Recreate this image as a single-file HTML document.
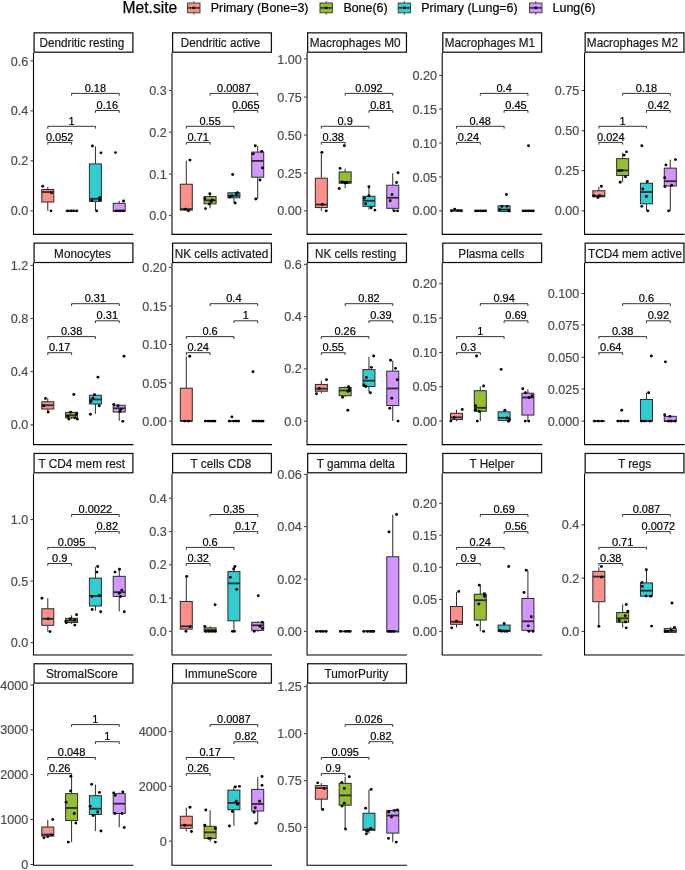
<!DOCTYPE html>
<html lang="en"><head><meta charset="utf-8"><title>Met.site immune cell fractions</title>
<style>
html,body{margin:0;padding:0;background:#fff;}
body{width:685px;height:870px;overflow:hidden;font-family:"Liberation Sans",Arial,Helvetica,sans-serif;}
svg{display:block;}
</style></head><body>
<svg width="685" height="870" viewBox="0 0 685 870" font-family="'Liberation Sans', Arial, Helvetica, sans-serif">
<rect width="685" height="870" fill="#fff"/>
<text x="122.6" y="12.6" font-size="15.6" fill="#000" stroke="#000" stroke-width="0.25">Met.site</text>
<g stroke="#333" stroke-width="0.9">
<line x1="193.8" x2="193.8" y1="1.1" y2="14.7"/>
<rect x="187.6" y="3" width="12.4" height="9.8" fill="#F9918A"/>
<line x1="187.6" x2="200" y1="7.9" y2="7.9" stroke-width="1.6"/>
</g>
<circle cx="193.8" cy="7.9" r="1.45" fill="#000"/>
<text x="210.7" y="11.5" font-size="12.45" fill="#000" stroke="#000" stroke-width="0.2">Primary (Bone=3)</text>
<g stroke="#333" stroke-width="0.9">
<line x1="326.2" x2="326.2" y1="1.1" y2="14.7"/>
<rect x="320" y="3" width="12.4" height="9.8" fill="#96BE33"/>
<line x1="320" x2="332.4" y1="7.9" y2="7.9" stroke-width="1.6"/>
</g>
<circle cx="326.2" cy="7.9" r="1.45" fill="#000"/>
<text x="343.4" y="11.5" font-size="12.45" fill="#000" stroke="#000" stroke-width="0.2">Bone(6)</text>
<g stroke="#333" stroke-width="0.9">
<line x1="404.4" x2="404.4" y1="1.1" y2="14.7"/>
<rect x="398.2" y="3" width="12.4" height="9.8" fill="#33CCD0"/>
<line x1="398.2" x2="410.6" y1="7.9" y2="7.9" stroke-width="1.6"/>
</g>
<circle cx="404.4" cy="7.9" r="1.45" fill="#000"/>
<text x="421.2" y="11.5" font-size="12.45" fill="#000" stroke="#000" stroke-width="0.2">Primary (Lung=6)</text>
<g stroke="#333" stroke-width="0.9">
<line x1="535.8" x2="535.8" y1="1.1" y2="14.7"/>
<rect x="529.6" y="3" width="12.4" height="9.8" fill="#D296FF"/>
<line x1="529.6" x2="542" y1="7.9" y2="7.9" stroke-width="1.6"/>
</g>
<circle cx="535.8" cy="7.9" r="1.45" fill="#000"/>
<text x="552.6" y="11.5" font-size="12.45" fill="#000" stroke="#000" stroke-width="0.2">Lung(6)</text>
<g>
<g stroke="#2b2b2b" stroke-width="1" fill="#F9918A">
<line x1="47.79" x2="47.79" y1="186.99" y2="189.5"/>
<line x1="47.79" x2="47.79" y1="202.06" y2="210.85"/>
<rect x="41.79" y="189.5" width="12" height="12.56"/>
<line x1="41.79" x2="53.79" y1="192.02" y2="192.02" stroke-width="1.8"/>
</g>
<g stroke="#2b2b2b" stroke-width="1" fill="#96BE33">
<line x1="65.6" x2="77.6" y1="210.85" y2="210.85" stroke-width="1.8"/>
</g>
<g stroke="#2b2b2b" stroke-width="1" fill="#33CCD0">
<line x1="95.41" x2="95.41" y1="146.31" y2="163.89"/>
<line x1="95.41" x2="95.41" y1="201.31" y2="210.85"/>
<rect x="89.41" y="163.89" width="12" height="37.42"/>
<line x1="89.41" x2="101.41" y1="198.8" y2="198.8" stroke-width="1.8"/>
</g>
<g stroke="#2b2b2b" stroke-width="1" fill="#D296FF">
<line x1="119.22" x2="119.22" y1="200.81" y2="203.32"/>
<rect x="113.22" y="203.32" width="12" height="8.04"/>
<line x1="113.22" x2="125.22" y1="210.85" y2="210.85" stroke-width="1.8"/>
</g>
<g fill="#000">
<circle cx="42.69" cy="186.24" r="1.45"/>
<circle cx="51.47" cy="192.77" r="1.45"/>
<circle cx="50.97" cy="210.85" r="1.45"/>
<circle cx="67.8" cy="210.85" r="1.45"/>
<circle cx="71.06" cy="210.85" r="1.45"/>
<circle cx="73.57" cy="210.85" r="1.45"/>
<circle cx="76.84" cy="210.85" r="1.45"/>
<circle cx="92.4" cy="146.06" r="1.45"/>
<circle cx="100.94" cy="152.84" r="1.45"/>
<circle cx="99.68" cy="197.79" r="1.45"/>
<circle cx="99.68" cy="200.05" r="1.45"/>
<circle cx="91.9" cy="200.81" r="1.45"/>
<circle cx="96.67" cy="210.85" r="1.45"/>
<circle cx="115.5" cy="152.59" r="1.45"/>
<circle cx="123.54" cy="201.06" r="1.45"/>
<circle cx="116.76" cy="210.85" r="1.45"/>
<circle cx="120.02" cy="210.85" r="1.45"/>
<circle cx="123.04" cy="210.85" r="1.45"/>
</g>
<g stroke="#111" stroke-width="0.85" fill="none">
<path d="M71.6 95.7V93.4H119.22V95.7"/>
<path d="M95.41 112.8V110.5H119.22V112.8"/>
<path d="M47.79 128.6V126.3H95.41V128.6"/>
<path d="M47.79 144.7V142.4H71.6V144.7"/>
</g>
<g font-size="11" fill="#000" stroke="#000" stroke-width="0.2" text-anchor="middle">
<text x="95.41" y="91.95">0.18</text>
<text x="107.31" y="109.05">0.16</text>
<text x="71.6" y="124.85">1</text>
<text x="59.69" y="140.95">0.052</text>
</g>
<path d="M33.5 52.8V234.35H133.5" stroke="#000" stroke-width="1.07" fill="none"/>
<g stroke="#333" stroke-width="1">
<line x1="30.5" x2="33" y1="60.91" y2="60.91"/>
<line x1="30.5" x2="33" y1="110.89" y2="110.89"/>
<line x1="30.5" x2="33" y1="160.87" y2="160.87"/>
<line x1="30.5" x2="33" y1="210.85" y2="210.85"/>
</g>
<g font-size="12.6" fill="#4D4D4D" stroke="#4D4D4D" stroke-width="0.2" text-anchor="end">
<text x="28.3" y="65.51">0.6</text>
<text x="28.3" y="115.49">0.4</text>
<text x="28.3" y="165.47">0.2</text>
<text x="28.3" y="215.45">0.0</text>
</g>
<rect x="34.1" y="32.85" width="98.8" height="19.35" fill="#fff" stroke="#111" stroke-width="1.25"/>
<text x="39.4" y="47.23" font-size="12" fill="#1A1A1A" stroke="#1A1A1A" stroke-width="0.2" textLength="84.9" lengthAdjust="spacingAndGlyphs">Dendritic resting</text>
</g>
<g>
<g stroke="#2b2b2b" stroke-width="1" fill="#F9918A">
<line x1="186.29" x2="186.29" y1="160.62" y2="184.23"/>
<line x1="186.29" x2="186.29" y1="210.1" y2="210.85"/>
<rect x="180.29" y="184.23" width="12" height="25.87"/>
<line x1="180.29" x2="192.29" y1="209.09" y2="209.09" stroke-width="1.8"/>
</g>
<g stroke="#2b2b2b" stroke-width="1" fill="#96BE33">
<line x1="210.1" x2="210.1" y1="193.77" y2="196.54"/>
<line x1="210.1" x2="210.1" y1="203.82" y2="208.34"/>
<rect x="204.1" y="196.54" width="12" height="7.28"/>
<line x1="204.1" x2="216.1" y1="200.3" y2="200.3" stroke-width="1.8"/>
</g>
<g stroke="#2b2b2b" stroke-width="1" fill="#33CCD0">
<line x1="233.91" x2="233.91" y1="197.79" y2="202.82"/>
<rect x="227.91" y="192.77" width="12" height="5.02"/>
<line x1="227.91" x2="239.91" y1="195.78" y2="195.78" stroke-width="1.8"/>
</g>
<g stroke="#2b2b2b" stroke-width="1" fill="#D296FF">
<line x1="257.72" x2="257.72" y1="146.06" y2="152.08"/>
<line x1="257.72" x2="257.72" y1="177.2" y2="199.05"/>
<rect x="251.72" y="152.08" width="12" height="25.12"/>
<line x1="251.72" x2="263.72" y1="160.87" y2="160.87" stroke-width="1.8"/>
</g>
<g fill="#000">
<circle cx="189.98" cy="160.12" r="1.45"/>
<circle cx="185.21" cy="209.09" r="1.45"/>
<circle cx="188.47" cy="210.85" r="1.45"/>
<circle cx="209.82" cy="193.77" r="1.45"/>
<circle cx="204.8" cy="198.8" r="1.45"/>
<circle cx="212.33" cy="200.05" r="1.45"/>
<circle cx="211.07" cy="201.56" r="1.45"/>
<circle cx="209.32" cy="204.07" r="1.45"/>
<circle cx="205.55" cy="208.59" r="1.45"/>
<circle cx="232.67" cy="174.44" r="1.45"/>
<circle cx="237.44" cy="192.77" r="1.45"/>
<circle cx="236.43" cy="193.77" r="1.45"/>
<circle cx="229.91" cy="197.04" r="1.45"/>
<circle cx="231.91" cy="195.78" r="1.45"/>
<circle cx="235.18" cy="203.07" r="1.45"/>
<circle cx="255.27" cy="145.8" r="1.45"/>
<circle cx="261.79" cy="151.33" r="1.45"/>
<circle cx="253.26" cy="153.84" r="1.45"/>
<circle cx="262.55" cy="167.91" r="1.45"/>
<circle cx="260.04" cy="179.96" r="1.45"/>
<circle cx="255.77" cy="199.05" r="1.45"/>
</g>
<g stroke="#111" stroke-width="0.85" fill="none">
<path d="M210.1 95.7V93.4H257.72V95.7"/>
<path d="M233.91 112.8V110.5H257.72V112.8"/>
<path d="M186.29 128.6V126.3H233.91V128.6"/>
<path d="M186.29 144.7V142.4H210.1V144.7"/>
</g>
<g font-size="11" fill="#000" stroke="#000" stroke-width="0.2" text-anchor="middle">
<text x="233.91" y="91.95">0.0087</text>
<text x="245.81" y="109.05">0.065</text>
<text x="210.1" y="124.85">0.55</text>
<text x="198.19" y="140.95">0.71</text>
</g>
<path d="M172 52.8V234.35H272" stroke="#000" stroke-width="1.07" fill="none"/>
<g stroke="#333" stroke-width="1">
<line x1="169" x2="171.5" y1="90.55" y2="90.55"/>
<line x1="169" x2="171.5" y1="132.24" y2="132.24"/>
<line x1="169" x2="171.5" y1="173.93" y2="173.93"/>
<line x1="169" x2="171.5" y1="215.62" y2="215.62"/>
</g>
<g font-size="12.6" fill="#4D4D4D" stroke="#4D4D4D" stroke-width="0.2" text-anchor="end">
<text x="166.8" y="95.15">0.3</text>
<text x="166.8" y="136.84">0.2</text>
<text x="166.8" y="178.53">0.1</text>
<text x="166.8" y="220.22">0.0</text>
</g>
<rect x="172.6" y="32.85" width="98.8" height="19.35" fill="#fff" stroke="#111" stroke-width="1.25"/>
<text x="180.8" y="47.23" font-size="12" fill="#1A1A1A" stroke="#1A1A1A" stroke-width="0.2" textLength="79.5" lengthAdjust="spacingAndGlyphs">Dendritic active</text>
</g>
<g>
<g stroke="#2b2b2b" stroke-width="1" fill="#F9918A">
<line x1="321.34" x2="321.34" y1="152.59" y2="178.2"/>
<line x1="321.34" x2="321.34" y1="207.59" y2="210.85"/>
<rect x="315.34" y="178.2" width="12" height="29.38"/>
<line x1="315.34" x2="327.34" y1="204.57" y2="204.57" stroke-width="1.8"/>
</g>
<g stroke="#2b2b2b" stroke-width="1" fill="#96BE33">
<line x1="345.15" x2="345.15" y1="168.66" y2="171.92"/>
<line x1="345.15" x2="345.15" y1="183.23" y2="188.25"/>
<rect x="339.15" y="171.92" width="12" height="11.3"/>
<line x1="339.15" x2="351.15" y1="181.97" y2="181.97" stroke-width="1.8"/>
</g>
<g stroke="#2b2b2b" stroke-width="1" fill="#33CCD0">
<line x1="368.96" x2="368.96" y1="186.99" y2="196.29"/>
<line x1="368.96" x2="368.96" y1="206.33" y2="209.6"/>
<rect x="362.96" y="196.29" width="12" height="10.05"/>
<line x1="362.96" x2="374.96" y1="200.81" y2="200.81" stroke-width="1.8"/>
</g>
<g stroke="#2b2b2b" stroke-width="1" fill="#D296FF">
<line x1="392.77" x2="392.77" y1="173.18" y2="185.24"/>
<line x1="392.77" x2="392.77" y1="208.34" y2="210.85"/>
<rect x="386.77" y="185.24" width="12" height="23.11"/>
<line x1="386.77" x2="398.77" y1="197.79" y2="197.79" stroke-width="1.8"/>
</g>
<g fill="#000">
<circle cx="321.96" cy="152.33" r="1.45"/>
<circle cx="322.21" cy="204.57" r="1.45"/>
<circle cx="326.23" cy="210.85" r="1.45"/>
<circle cx="344.31" cy="145.8" r="1.45"/>
<circle cx="340.04" cy="168.41" r="1.45"/>
<circle cx="342.3" cy="181.97" r="1.45"/>
<circle cx="346.82" cy="182.72" r="1.45"/>
<circle cx="339.28" cy="188.5" r="1.45"/>
<circle cx="345.06" cy="182.72" r="1.45"/>
<circle cx="368.91" cy="186.74" r="1.45"/>
<circle cx="368.91" cy="195.78" r="1.45"/>
<circle cx="364.39" cy="198.29" r="1.45"/>
<circle cx="365.65" cy="203.82" r="1.45"/>
<circle cx="371.17" cy="207.84" r="1.45"/>
<circle cx="374.94" cy="210.1" r="1.45"/>
<circle cx="398.04" cy="172.68" r="1.45"/>
<circle cx="396.53" cy="182.47" r="1.45"/>
<circle cx="392.01" cy="194.53" r="1.45"/>
<circle cx="390.26" cy="200.81" r="1.45"/>
<circle cx="394.27" cy="210.85" r="1.45"/>
<circle cx="397.54" cy="210.85" r="1.45"/>
</g>
<g stroke="#111" stroke-width="0.85" fill="none">
<path d="M345.15 95.7V93.4H392.77V95.7"/>
<path d="M368.96 112.8V110.5H392.77V112.8"/>
<path d="M321.34 128.6V126.3H368.96V128.6"/>
<path d="M321.34 144.7V142.4H345.15V144.7"/>
</g>
<g font-size="11" fill="#000" stroke="#000" stroke-width="0.2" text-anchor="middle">
<text x="368.96" y="91.95">0.092</text>
<text x="380.87" y="109.05">0.81</text>
<text x="345.15" y="124.85">0.9</text>
<text x="333.25" y="140.95">0.38</text>
</g>
<path d="M307.05 52.8V234.35H407.05" stroke="#000" stroke-width="1.07" fill="none"/>
<g stroke="#333" stroke-width="1">
<line x1="304.05" x2="306.55" y1="58.91" y2="58.91"/>
<line x1="304.05" x2="306.55" y1="97.08" y2="97.08"/>
<line x1="304.05" x2="306.55" y1="135" y2="135"/>
<line x1="304.05" x2="306.55" y1="172.93" y2="172.93"/>
<line x1="304.05" x2="306.55" y1="210.85" y2="210.85"/>
</g>
<g font-size="12.6" fill="#4D4D4D" stroke="#4D4D4D" stroke-width="0.2" text-anchor="end">
<text x="301.85" y="63.51">1.00</text>
<text x="301.85" y="101.68">0.75</text>
<text x="301.85" y="139.6">0.50</text>
<text x="301.85" y="177.53">0.25</text>
<text x="301.85" y="215.45">0.00</text>
</g>
<rect x="307.65" y="32.85" width="98.8" height="19.35" fill="#fff" stroke="#111" stroke-width="1.25"/>
<text x="309.7" y="47.23" font-size="12" fill="#1A1A1A" stroke="#1A1A1A" stroke-width="0.2" textLength="90.8" lengthAdjust="spacingAndGlyphs">Macrophages M0</text>
</g>
<g>
<g stroke="#2b2b2b" stroke-width="1" fill="#F9918A">
<rect x="450.49" y="210.1" width="12" height="0.75"/>
<line x1="450.49" x2="462.49" y1="210.6" y2="210.6" stroke-width="1.8"/>
</g>
<g stroke="#2b2b2b" stroke-width="1" fill="#96BE33">
<line x1="474.3" x2="486.3" y1="210.85" y2="210.85" stroke-width="1.8"/>
</g>
<g stroke="#2b2b2b" stroke-width="1" fill="#33CCD0">
<rect x="498.11" y="205.83" width="12" height="5.53"/>
<line x1="498.11" x2="510.11" y1="209.6" y2="209.6" stroke-width="1.8"/>
</g>
<g stroke="#2b2b2b" stroke-width="1" fill="#D296FF">
<line x1="521.92" x2="533.92" y1="210.85" y2="210.85" stroke-width="1.8"/>
</g>
<g fill="#000">
<circle cx="451.69" cy="210.85" r="1.45"/>
<circle cx="454.7" cy="209.09" r="1.45"/>
<circle cx="457.96" cy="210.6" r="1.45"/>
<circle cx="460.98" cy="210.85" r="1.45"/>
<circle cx="475.79" cy="210.85" r="1.45"/>
<circle cx="478.05" cy="210.85" r="1.45"/>
<circle cx="480.56" cy="210.85" r="1.45"/>
<circle cx="483.07" cy="210.85" r="1.45"/>
<circle cx="485.58" cy="210.85" r="1.45"/>
<circle cx="506.42" cy="194.53" r="1.45"/>
<circle cx="501.91" cy="206.33" r="1.45"/>
<circle cx="506.93" cy="206.33" r="1.45"/>
<circle cx="499.9" cy="209.6" r="1.45"/>
<circle cx="508.68" cy="210.35" r="1.45"/>
<circle cx="508.94" cy="211.1" r="1.45"/>
<circle cx="528.52" cy="145.8" r="1.45"/>
<circle cx="523.25" cy="210.85" r="1.45"/>
<circle cx="525.76" cy="210.85" r="1.45"/>
<circle cx="528.27" cy="210.85" r="1.45"/>
<circle cx="530.78" cy="210.85" r="1.45"/>
<circle cx="533.29" cy="210.85" r="1.45"/>
</g>
<g stroke="#111" stroke-width="0.85" fill="none">
<path d="M480.3 95.7V93.4H527.92V95.7"/>
<path d="M504.11 112.8V110.5H527.92V112.8"/>
<path d="M456.49 128.6V126.3H504.11V128.6"/>
<path d="M456.49 144.7V142.4H480.3V144.7"/>
</g>
<g font-size="11" fill="#000" stroke="#000" stroke-width="0.2" text-anchor="middle">
<text x="504.11" y="91.95">0.4</text>
<text x="516.01" y="109.05">0.45</text>
<text x="480.3" y="124.85">0.48</text>
<text x="468.39" y="140.95">0.24</text>
</g>
<path d="M442.2 52.8V234.35H542.2" stroke="#000" stroke-width="1.07" fill="none"/>
<g stroke="#333" stroke-width="1">
<line x1="439.2" x2="441.7" y1="75.48" y2="75.48"/>
<line x1="439.2" x2="441.7" y1="109.14" y2="109.14"/>
<line x1="439.2" x2="441.7" y1="143.04" y2="143.04"/>
<line x1="439.2" x2="441.7" y1="176.95" y2="176.95"/>
<line x1="439.2" x2="441.7" y1="210.85" y2="210.85"/>
</g>
<g font-size="12.6" fill="#4D4D4D" stroke="#4D4D4D" stroke-width="0.2" text-anchor="end">
<text x="437" y="80.08">0.20</text>
<text x="437" y="113.74">0.15</text>
<text x="437" y="147.64">0.10</text>
<text x="437" y="181.55">0.05</text>
<text x="437" y="215.45">0.00</text>
</g>
<rect x="442.8" y="32.85" width="98.8" height="19.35" fill="#fff" stroke="#111" stroke-width="1.25"/>
<text x="444.7" y="47.23" font-size="12" fill="#1A1A1A" stroke="#1A1A1A" stroke-width="0.2" textLength="90.3" lengthAdjust="spacingAndGlyphs">Macrophages M1</text>
</g>
<g>
<g stroke="#2b2b2b" stroke-width="1" fill="#F9918A">
<line x1="598.84" x2="598.84" y1="186.99" y2="190.76"/>
<line x1="598.84" x2="598.84" y1="196.79" y2="197.79"/>
<rect x="592.84" y="190.76" width="12" height="6.03"/>
<line x1="592.84" x2="604.84" y1="195.78" y2="195.78" stroke-width="1.8"/>
</g>
<g stroke="#2b2b2b" stroke-width="1" fill="#96BE33">
<line x1="622.65" x2="622.65" y1="152.59" y2="158.61"/>
<line x1="622.65" x2="622.65" y1="175.44" y2="181.97"/>
<rect x="616.65" y="158.61" width="12" height="16.83"/>
<line x1="616.65" x2="628.65" y1="170.42" y2="170.42" stroke-width="1.8"/>
</g>
<g stroke="#2b2b2b" stroke-width="1" fill="#33CCD0">
<line x1="646.46" x2="646.46" y1="181.22" y2="183.23"/>
<line x1="646.46" x2="646.46" y1="203.82" y2="210.85"/>
<rect x="640.46" y="183.23" width="12" height="20.59"/>
<line x1="640.46" x2="652.46" y1="192.02" y2="192.02" stroke-width="1.8"/>
</g>
<g stroke="#2b2b2b" stroke-width="1" fill="#D296FF">
<line x1="670.27" x2="670.27" y1="159.62" y2="168.16"/>
<line x1="670.27" x2="670.27" y1="185.99" y2="210.85"/>
<rect x="664.27" y="168.16" width="12" height="17.83"/>
<line x1="664.27" x2="676.27" y1="181.22" y2="181.22" stroke-width="1.8"/>
</g>
<g fill="#000">
<circle cx="601.39" cy="186.24" r="1.45"/>
<circle cx="593.85" cy="195.78" r="1.45"/>
<circle cx="599.63" cy="195.78" r="1.45"/>
<circle cx="597.87" cy="197.54" r="1.45"/>
<circle cx="626.49" cy="151.83" r="1.45"/>
<circle cx="624.24" cy="155.1" r="1.45"/>
<circle cx="619.21" cy="170.67" r="1.45"/>
<circle cx="621.72" cy="170.42" r="1.45"/>
<circle cx="625.49" cy="176.7" r="1.45"/>
<circle cx="620.22" cy="182.22" r="1.45"/>
<circle cx="641.81" cy="145.8" r="1.45"/>
<circle cx="647.34" cy="181.47" r="1.45"/>
<circle cx="642.82" cy="189" r="1.45"/>
<circle cx="646.33" cy="196.54" r="1.45"/>
<circle cx="641.81" cy="206.33" r="1.45"/>
<circle cx="647.84" cy="210.85" r="1.45"/>
<circle cx="675.46" cy="159.62" r="1.45"/>
<circle cx="665.92" cy="164.89" r="1.45"/>
<circle cx="664.66" cy="177.7" r="1.45"/>
<circle cx="664.91" cy="186.49" r="1.45"/>
<circle cx="671.69" cy="185.24" r="1.45"/>
<circle cx="668.68" cy="210.85" r="1.45"/>
</g>
<g stroke="#111" stroke-width="0.85" fill="none">
<path d="M622.65 95.7V93.4H670.27V95.7"/>
<path d="M646.46 112.8V110.5H670.27V112.8"/>
<path d="M598.84 128.6V126.3H646.46V128.6"/>
<path d="M598.84 144.7V142.4H622.65V144.7"/>
</g>
<g font-size="11" fill="#000" stroke="#000" stroke-width="0.2" text-anchor="middle">
<text x="646.46" y="91.95">0.18</text>
<text x="658.37" y="109.05">0.42</text>
<text x="622.65" y="124.85">1</text>
<text x="610.74" y="140.95">0.024</text>
</g>
<path d="M584.55 52.8V234.35H684.55" stroke="#000" stroke-width="1.07" fill="none"/>
<g stroke="#333" stroke-width="1">
<line x1="581.55" x2="584.05" y1="90.55" y2="90.55"/>
<line x1="581.55" x2="584.05" y1="130.74" y2="130.74"/>
<line x1="581.55" x2="584.05" y1="170.67" y2="170.67"/>
<line x1="581.55" x2="584.05" y1="210.85" y2="210.85"/>
</g>
<g font-size="12.6" fill="#4D4D4D" stroke="#4D4D4D" stroke-width="0.2" text-anchor="end">
<text x="579.35" y="95.15">0.75</text>
<text x="579.35" y="135.34">0.50</text>
<text x="579.35" y="175.27">0.25</text>
<text x="579.35" y="215.45">0.00</text>
</g>
<rect x="585.15" y="32.85" width="98.8" height="19.35" fill="#fff" stroke="#111" stroke-width="1.25"/>
<text x="586.8" y="47.23" font-size="12" fill="#1A1A1A" stroke="#1A1A1A" stroke-width="0.2" textLength="91.2" lengthAdjust="spacingAndGlyphs">Macrophages M2</text>
</g>
<g>
<g stroke="#2b2b2b" stroke-width="1" fill="#F9918A">
<line x1="47.79" x2="47.79" y1="398.25" y2="401.76"/>
<line x1="47.79" x2="47.79" y1="409.05" y2="411.56"/>
<rect x="41.79" y="401.76" width="12" height="7.28"/>
<line x1="41.79" x2="53.79" y1="405.28" y2="405.28" stroke-width="1.8"/>
</g>
<g stroke="#2b2b2b" stroke-width="1" fill="#96BE33">
<line x1="71.6" x2="71.6" y1="411.56" y2="412.31"/>
<line x1="71.6" x2="71.6" y1="417.84" y2="419.09"/>
<rect x="65.6" y="412.31" width="12" height="5.53"/>
<line x1="65.6" x2="77.6" y1="415.33" y2="415.33" stroke-width="1.8"/>
</g>
<g stroke="#2b2b2b" stroke-width="1" fill="#33CCD0">
<line x1="95.41" x2="95.41" y1="393.73" y2="395.24"/>
<line x1="95.41" x2="95.41" y1="404.03" y2="413.82"/>
<rect x="89.41" y="395.24" width="12" height="8.79"/>
<line x1="89.41" x2="101.41" y1="399.5" y2="399.5" stroke-width="1.8"/>
</g>
<g stroke="#2b2b2b" stroke-width="1" fill="#D296FF">
<line x1="119.22" x2="119.22" y1="404.53" y2="405.28"/>
<line x1="119.22" x2="119.22" y1="412.06" y2="420.85"/>
<rect x="113.22" y="405.28" width="12" height="6.78"/>
<line x1="113.22" x2="125.22" y1="408.29" y2="408.29" stroke-width="1.8"/>
</g>
<g fill="#000">
<circle cx="45.45" cy="398.5" r="1.45"/>
<circle cx="43.69" cy="405.78" r="1.45"/>
<circle cx="48.21" cy="412.06" r="1.45"/>
<circle cx="73.82" cy="394.48" r="1.45"/>
<circle cx="70.56" cy="412.31" r="1.45"/>
<circle cx="76.58" cy="413.82" r="1.45"/>
<circle cx="67.8" cy="416.33" r="1.45"/>
<circle cx="74.83" cy="417.84" r="1.45"/>
<circle cx="68.8" cy="419.09" r="1.45"/>
<circle cx="77.34" cy="419.09" r="1.45"/>
<circle cx="97.93" cy="377.15" r="1.45"/>
<circle cx="94.41" cy="394.73" r="1.45"/>
<circle cx="92.91" cy="398.25" r="1.45"/>
<circle cx="90.9" cy="401.51" r="1.45"/>
<circle cx="99.18" cy="405.78" r="1.45"/>
<circle cx="90.39" cy="414.32" r="1.45"/>
<circle cx="124.04" cy="356.31" r="1.45"/>
<circle cx="113.75" cy="404.53" r="1.45"/>
<circle cx="120.78" cy="409.55" r="1.45"/>
<circle cx="119.77" cy="411.56" r="1.45"/>
<circle cx="122.79" cy="421.35" r="1.45"/>
<circle cx="118.01" cy="405.78" r="1.45"/>
</g>
<g stroke="#111" stroke-width="0.85" fill="none">
<path d="M71.6 306V303.7H119.22V306"/>
<path d="M95.41 323.1V320.8H119.22V323.1"/>
<path d="M47.79 338.9V336.6H95.41V338.9"/>
<path d="M47.79 355V352.7H71.6V355"/>
</g>
<g font-size="11" fill="#000" stroke="#000" stroke-width="0.2" text-anchor="middle">
<text x="95.41" y="302.25">0.31</text>
<text x="107.31" y="319.35">0.31</text>
<text x="71.6" y="335.15">0.38</text>
<text x="59.69" y="351.25">0.17</text>
</g>
<path d="M33.5 263.1V444.65H133.5" stroke="#000" stroke-width="1.07" fill="none"/>
<g stroke="#333" stroke-width="1">
<line x1="30.5" x2="33" y1="265.39" y2="265.39"/>
<line x1="30.5" x2="33" y1="318.38" y2="318.38"/>
<line x1="30.5" x2="33" y1="371.63" y2="371.63"/>
<line x1="30.5" x2="33" y1="424.87" y2="424.87"/>
</g>
<g font-size="12.6" fill="#4D4D4D" stroke="#4D4D4D" stroke-width="0.2" text-anchor="end">
<text x="28.3" y="269.99">1.2</text>
<text x="28.3" y="322.98">0.8</text>
<text x="28.3" y="376.23">0.4</text>
<text x="28.3" y="429.47">0.0</text>
</g>
<rect x="34.1" y="243.15" width="98.8" height="19.35" fill="#fff" stroke="#111" stroke-width="1.25"/>
<text x="54.1" y="257.53" font-size="12" fill="#1A1A1A" stroke="#1A1A1A" stroke-width="0.2" textLength="56.9" lengthAdjust="spacingAndGlyphs">Monocytes</text>
</g>
<g>
<g stroke="#2b2b2b" stroke-width="1" fill="#F9918A">
<line x1="186.29" x2="186.29" y1="356.31" y2="388.2"/>
<rect x="180.29" y="388.2" width="12" height="32.9"/>
<line x1="180.29" x2="192.29" y1="421.1" y2="421.1" stroke-width="1.8"/>
</g>
<g stroke="#2b2b2b" stroke-width="1" fill="#96BE33">
<line x1="204.1" x2="216.1" y1="421.1" y2="421.1" stroke-width="1.8"/>
</g>
<g stroke="#2b2b2b" stroke-width="1" fill="#33CCD0">
<line x1="227.91" x2="239.91" y1="421.1" y2="421.1" stroke-width="1.8"/>
</g>
<g stroke="#2b2b2b" stroke-width="1" fill="#D296FF">
<line x1="251.72" x2="263.72" y1="421.1" y2="421.1" stroke-width="1.8"/>
</g>
<g fill="#000">
<circle cx="189.73" cy="356.31" r="1.45"/>
<circle cx="184.71" cy="421.1" r="1.45"/>
<circle cx="188.47" cy="421.1" r="1.45"/>
<circle cx="205.55" cy="421.1" r="1.45"/>
<circle cx="208.06" cy="421.1" r="1.45"/>
<circle cx="210.57" cy="421.1" r="1.45"/>
<circle cx="213.08" cy="421.1" r="1.45"/>
<circle cx="214.84" cy="421.1" r="1.45"/>
<circle cx="231.91" cy="416.83" r="1.45"/>
<circle cx="229.4" cy="421.1" r="1.45"/>
<circle cx="233.67" cy="421.1" r="1.45"/>
<circle cx="236.18" cy="421.1" r="1.45"/>
<circle cx="238.44" cy="421.1" r="1.45"/>
<circle cx="253.01" cy="371.63" r="1.45"/>
<circle cx="253.51" cy="421.1" r="1.45"/>
<circle cx="256.27" cy="421.1" r="1.45"/>
<circle cx="258.78" cy="421.1" r="1.45"/>
<circle cx="261.29" cy="421.1" r="1.45"/>
<circle cx="263.05" cy="421.1" r="1.45"/>
</g>
<g stroke="#111" stroke-width="0.85" fill="none">
<path d="M210.1 306V303.7H257.72V306"/>
<path d="M233.91 323.1V320.8H257.72V323.1"/>
<path d="M186.29 338.9V336.6H233.91V338.9"/>
<path d="M186.29 355V352.7H210.1V355"/>
</g>
<g font-size="11" fill="#000" stroke="#000" stroke-width="0.2" text-anchor="middle">
<text x="233.91" y="302.25">0.4</text>
<text x="245.81" y="319.35">1</text>
<text x="210.1" y="335.15">0.6</text>
<text x="198.19" y="351.25">0.24</text>
</g>
<path d="M172 263.1V444.65H272" stroke="#000" stroke-width="1.07" fill="none"/>
<g stroke="#333" stroke-width="1">
<line x1="169" x2="171.5" y1="267.4" y2="267.4"/>
<line x1="169" x2="171.5" y1="306.08" y2="306.08"/>
<line x1="169" x2="171.5" y1="344.5" y2="344.5"/>
<line x1="169" x2="171.5" y1="382.93" y2="382.93"/>
<line x1="169" x2="171.5" y1="421.1" y2="421.1"/>
</g>
<g font-size="12.6" fill="#4D4D4D" stroke="#4D4D4D" stroke-width="0.2" text-anchor="end">
<text x="166.8" y="272">0.20</text>
<text x="166.8" y="310.68">0.15</text>
<text x="166.8" y="349.1">0.10</text>
<text x="166.8" y="387.53">0.05</text>
<text x="166.8" y="425.7">0.00</text>
</g>
<rect x="172.6" y="243.15" width="98.8" height="19.35" fill="#fff" stroke="#111" stroke-width="1.25"/>
<text x="174.7" y="257.53" font-size="12" fill="#1A1A1A" stroke="#1A1A1A" stroke-width="0.2" textLength="93.6" lengthAdjust="spacingAndGlyphs">NK cells activated</text>
</g>
<g>
<g stroke="#2b2b2b" stroke-width="1" fill="#F9918A">
<line x1="321.34" x2="321.34" y1="380.67" y2="384.44"/>
<line x1="321.34" x2="321.34" y1="391.22" y2="393.23"/>
<rect x="315.34" y="384.44" width="12" height="6.78"/>
<line x1="315.34" x2="327.34" y1="388.71" y2="388.71" stroke-width="1.8"/>
</g>
<g stroke="#2b2b2b" stroke-width="1" fill="#96BE33">
<line x1="345.15" x2="345.15" y1="386.44" y2="387.45"/>
<line x1="345.15" x2="345.15" y1="395.74" y2="396.99"/>
<rect x="339.15" y="387.45" width="12" height="8.29"/>
<line x1="339.15" x2="351.15" y1="390.46" y2="390.46" stroke-width="1.8"/>
</g>
<g stroke="#2b2b2b" stroke-width="1" fill="#33CCD0">
<line x1="368.96" x2="368.96" y1="356.81" y2="369.62"/>
<line x1="368.96" x2="368.96" y1="386.44" y2="392.72"/>
<rect x="362.96" y="369.62" width="12" height="16.83"/>
<line x1="362.96" x2="374.96" y1="380.67" y2="380.67" stroke-width="1.8"/>
</g>
<g stroke="#2b2b2b" stroke-width="1" fill="#D296FF">
<line x1="392.77" x2="392.77" y1="360.58" y2="371.12"/>
<line x1="392.77" x2="392.77" y1="405.53" y2="421.1"/>
<rect x="386.77" y="371.12" width="12" height="34.41"/>
<line x1="386.77" x2="398.77" y1="388.45" y2="388.45" stroke-width="1.8"/>
</g>
<g fill="#000">
<circle cx="326.48" cy="379.66" r="1.45"/>
<circle cx="319.45" cy="388.45" r="1.45"/>
<circle cx="316.44" cy="393.73" r="1.45"/>
<circle cx="348.58" cy="386.7" r="1.45"/>
<circle cx="349.33" cy="388.2" r="1.45"/>
<circle cx="349.33" cy="390.71" r="1.45"/>
<circle cx="348.07" cy="391.22" r="1.45"/>
<circle cx="342.55" cy="397.24" r="1.45"/>
<circle cx="347.82" cy="410.3" r="1.45"/>
<circle cx="373.68" cy="356.06" r="1.45"/>
<circle cx="371.42" cy="367.36" r="1.45"/>
<circle cx="366.4" cy="377.4" r="1.45"/>
<circle cx="363.89" cy="384.94" r="1.45"/>
<circle cx="365.9" cy="386.44" r="1.45"/>
<circle cx="370.42" cy="392.72" r="1.45"/>
<circle cx="390.51" cy="360.32" r="1.45"/>
<circle cx="395.53" cy="368.36" r="1.45"/>
<circle cx="397.29" cy="379.66" r="1.45"/>
<circle cx="391.76" cy="398.25" r="1.45"/>
<circle cx="389.75" cy="408.29" r="1.45"/>
<circle cx="398.04" cy="421.1" r="1.45"/>
</g>
<g stroke="#111" stroke-width="0.85" fill="none">
<path d="M345.15 306V303.7H392.77V306"/>
<path d="M368.96 323.1V320.8H392.77V323.1"/>
<path d="M321.34 338.9V336.6H368.96V338.9"/>
<path d="M321.34 355V352.7H345.15V355"/>
</g>
<g font-size="11" fill="#000" stroke="#000" stroke-width="0.2" text-anchor="middle">
<text x="368.96" y="302.25">0.82</text>
<text x="380.87" y="319.35">0.39</text>
<text x="345.15" y="335.15">0.26</text>
<text x="333.25" y="351.25">0.55</text>
</g>
<path d="M307.05 263.1V444.65H407.05" stroke="#000" stroke-width="1.07" fill="none"/>
<g stroke="#333" stroke-width="1">
<line x1="304.05" x2="306.55" y1="264.38" y2="264.38"/>
<line x1="304.05" x2="306.55" y1="316.62" y2="316.62"/>
<line x1="304.05" x2="306.55" y1="368.86" y2="368.86"/>
<line x1="304.05" x2="306.55" y1="421.1" y2="421.1"/>
</g>
<g font-size="12.6" fill="#4D4D4D" stroke="#4D4D4D" stroke-width="0.2" text-anchor="end">
<text x="301.85" y="268.98">0.6</text>
<text x="301.85" y="321.22">0.4</text>
<text x="301.85" y="373.46">0.2</text>
<text x="301.85" y="425.7">0.0</text>
</g>
<rect x="307.65" y="243.15" width="98.8" height="19.35" fill="#fff" stroke="#111" stroke-width="1.25"/>
<text x="315.1" y="257.53" font-size="12" fill="#1A1A1A" stroke="#1A1A1A" stroke-width="0.2" textLength="81.2" lengthAdjust="spacingAndGlyphs">NK cells resting</text>
</g>
<g>
<g stroke="#2b2b2b" stroke-width="1" fill="#F9918A">
<line x1="456.49" x2="456.49" y1="409.8" y2="413.32"/>
<line x1="456.49" x2="456.49" y1="419.6" y2="421.1"/>
<rect x="450.49" y="413.32" width="12" height="6.28"/>
<line x1="450.49" x2="462.49" y1="417.34" y2="417.34" stroke-width="1.8"/>
</g>
<g stroke="#2b2b2b" stroke-width="1" fill="#96BE33">
<line x1="480.3" x2="480.3" y1="386.44" y2="390.71"/>
<line x1="480.3" x2="480.3" y1="411.31" y2="421.1"/>
<rect x="474.3" y="390.71" width="12" height="20.59"/>
<line x1="474.3" x2="486.3" y1="407.79" y2="407.79" stroke-width="1.8"/>
</g>
<g stroke="#2b2b2b" stroke-width="1" fill="#33CCD0">
<line x1="504.11" x2="504.11" y1="410.05" y2="411.81"/>
<line x1="504.11" x2="504.11" y1="420.35" y2="421.1"/>
<rect x="498.11" y="411.81" width="12" height="8.54"/>
<line x1="498.11" x2="510.11" y1="417.84" y2="417.84" stroke-width="1.8"/>
</g>
<g stroke="#2b2b2b" stroke-width="1" fill="#D296FF">
<line x1="527.92" x2="527.92" y1="389.21" y2="393.23"/>
<line x1="527.92" x2="527.92" y1="415.08" y2="421.1"/>
<rect x="521.92" y="393.23" width="12" height="21.85"/>
<line x1="521.92" x2="533.92" y1="397.5" y2="397.5" stroke-width="1.8"/>
</g>
<g fill="#000">
<circle cx="462.23" cy="409.55" r="1.45"/>
<circle cx="454.2" cy="417.59" r="1.45"/>
<circle cx="450.93" cy="421.1" r="1.45"/>
<circle cx="476.54" cy="356.06" r="1.45"/>
<circle cx="483.58" cy="385.94" r="1.45"/>
<circle cx="475.54" cy="405.78" r="1.45"/>
<circle cx="475.54" cy="410.05" r="1.45"/>
<circle cx="479.31" cy="411.56" r="1.45"/>
<circle cx="477.3" cy="421.1" r="1.45"/>
<circle cx="501.15" cy="369.37" r="1.45"/>
<circle cx="504.92" cy="410.3" r="1.45"/>
<circle cx="506.93" cy="417.84" r="1.45"/>
<circle cx="509.44" cy="419.6" r="1.45"/>
<circle cx="508.94" cy="421.1" r="1.45"/>
<circle cx="508.18" cy="421.1" r="1.45"/>
<circle cx="522.75" cy="388.71" r="1.45"/>
<circle cx="525.51" cy="392.72" r="1.45"/>
<circle cx="529.02" cy="397.5" r="1.45"/>
<circle cx="525.26" cy="421.1" r="1.45"/>
<circle cx="528.77" cy="421.1" r="1.45"/>
<circle cx="532.04" cy="395.74" r="1.45"/>
</g>
<g stroke="#111" stroke-width="0.85" fill="none">
<path d="M480.3 306V303.7H527.92V306"/>
<path d="M504.11 323.1V320.8H527.92V323.1"/>
<path d="M456.49 338.9V336.6H504.11V338.9"/>
<path d="M456.49 355V352.7H480.3V355"/>
</g>
<g font-size="11" fill="#000" stroke="#000" stroke-width="0.2" text-anchor="middle">
<text x="504.11" y="302.25">0.94</text>
<text x="516.01" y="319.35">0.69</text>
<text x="480.3" y="335.15">1</text>
<text x="468.39" y="351.25">0.3</text>
</g>
<path d="M442.2 263.1V444.65H542.2" stroke="#000" stroke-width="1.07" fill="none"/>
<g stroke="#333" stroke-width="1">
<line x1="439.2" x2="441.7" y1="283.72" y2="283.72"/>
<line x1="439.2" x2="441.7" y1="318.13" y2="318.13"/>
<line x1="439.2" x2="441.7" y1="352.54" y2="352.54"/>
<line x1="439.2" x2="441.7" y1="386.7" y2="386.7"/>
<line x1="439.2" x2="441.7" y1="421.1" y2="421.1"/>
</g>
<g font-size="12.6" fill="#4D4D4D" stroke="#4D4D4D" stroke-width="0.2" text-anchor="end">
<text x="437" y="288.32">0.20</text>
<text x="437" y="322.73">0.15</text>
<text x="437" y="357.14">0.10</text>
<text x="437" y="391.3">0.05</text>
<text x="437" y="425.7">0.00</text>
</g>
<rect x="442.8" y="243.15" width="98.8" height="19.35" fill="#fff" stroke="#111" stroke-width="1.25"/>
<text x="458.3" y="257.53" font-size="12" fill="#1A1A1A" stroke="#1A1A1A" stroke-width="0.2" textLength="66" lengthAdjust="spacingAndGlyphs">Plasma cells</text>
</g>
<g>
<g stroke="#2b2b2b" stroke-width="1" fill="#F9918A">
<line x1="592.84" x2="604.84" y1="421.1" y2="421.1" stroke-width="1.8"/>
</g>
<g stroke="#2b2b2b" stroke-width="1" fill="#96BE33">
<line x1="616.65" x2="628.65" y1="421.1" y2="421.1" stroke-width="1.8"/>
</g>
<g stroke="#2b2b2b" stroke-width="1" fill="#33CCD0">
<line x1="646.46" x2="646.46" y1="392.72" y2="399.5"/>
<rect x="640.46" y="399.5" width="12" height="21.6"/>
<line x1="640.46" x2="652.46" y1="421.1" y2="421.1" stroke-width="1.8"/>
</g>
<g stroke="#2b2b2b" stroke-width="1" fill="#D296FF">
<line x1="670.27" x2="670.27" y1="415.33" y2="416.33"/>
<rect x="664.27" y="416.33" width="12" height="5.27"/>
<line x1="664.27" x2="676.27" y1="421.1" y2="421.1" stroke-width="1.8"/>
</g>
<g fill="#000">
<circle cx="594.61" cy="421.1" r="1.45"/>
<circle cx="598.37" cy="421.1" r="1.45"/>
<circle cx="602.14" cy="421.1" r="1.45"/>
<circle cx="621.72" cy="410.3" r="1.45"/>
<circle cx="617.96" cy="421.1" r="1.45"/>
<circle cx="620.97" cy="421.1" r="1.45"/>
<circle cx="624.74" cy="421.1" r="1.45"/>
<circle cx="628" cy="421.1" r="1.45"/>
<circle cx="651.35" cy="356.06" r="1.45"/>
<circle cx="648.59" cy="392.72" r="1.45"/>
<circle cx="641.56" cy="421.1" r="1.45"/>
<circle cx="644.82" cy="421.1" r="1.45"/>
<circle cx="649.85" cy="421.1" r="1.45"/>
<circle cx="665.41" cy="361.83" r="1.45"/>
<circle cx="664.66" cy="414.82" r="1.45"/>
<circle cx="669.93" cy="416.33" r="1.45"/>
<circle cx="668.68" cy="421.1" r="1.45"/>
<circle cx="671.19" cy="421.1" r="1.45"/>
<circle cx="674.96" cy="421.1" r="1.45"/>
</g>
<g stroke="#111" stroke-width="0.85" fill="none">
<path d="M622.65 306V303.7H670.27V306"/>
<path d="M646.46 323.1V320.8H670.27V323.1"/>
<path d="M598.84 338.9V336.6H646.46V338.9"/>
<path d="M598.84 355V352.7H622.65V355"/>
</g>
<g font-size="11" fill="#000" stroke="#000" stroke-width="0.2" text-anchor="middle">
<text x="646.46" y="302.25">0.6</text>
<text x="658.37" y="319.35">0.92</text>
<text x="622.65" y="335.15">0.38</text>
<text x="610.74" y="351.25">0.64</text>
</g>
<path d="M584.55 263.1V444.65H684.55" stroke="#000" stroke-width="1.07" fill="none"/>
<g stroke="#333" stroke-width="1">
<line x1="581.55" x2="584.05" y1="293.52" y2="293.52"/>
<line x1="581.55" x2="584.05" y1="324.91" y2="324.91"/>
<line x1="581.55" x2="584.05" y1="357.31" y2="357.31"/>
<line x1="581.55" x2="584.05" y1="388.96" y2="388.96"/>
<line x1="581.55" x2="584.05" y1="421.1" y2="421.1"/>
</g>
<g font-size="12.6" fill="#4D4D4D" stroke="#4D4D4D" stroke-width="0.2" text-anchor="end">
<text x="579.35" y="298.12">0.100</text>
<text x="579.35" y="329.51">0.075</text>
<text x="579.35" y="361.91">0.050</text>
<text x="579.35" y="393.56">0.025</text>
<text x="579.35" y="425.7">0.000</text>
</g>
<rect x="585.15" y="243.15" width="98.8" height="19.35" fill="#fff" stroke="#111" stroke-width="1.25"/>
<text x="588" y="257.53" font-size="12" fill="#1A1A1A" stroke="#1A1A1A" stroke-width="0.2" textLength="94" lengthAdjust="spacingAndGlyphs">TCD4 mem active</text>
</g>
<g>
<g stroke="#2b2b2b" stroke-width="1" fill="#F9918A">
<line x1="47.79" x2="47.79" y1="598.2" y2="608.75"/>
<line x1="47.79" x2="47.79" y1="625.33" y2="631.61"/>
<rect x="41.79" y="608.75" width="12" height="16.58"/>
<line x1="41.79" x2="53.79" y1="618.8" y2="618.8" stroke-width="1.8"/>
</g>
<g stroke="#2b2b2b" stroke-width="1" fill="#96BE33">
<line x1="71.6" x2="71.6" y1="615.28" y2="618.29"/>
<line x1="71.6" x2="71.6" y1="622.56" y2="624.07"/>
<rect x="65.6" y="618.29" width="12" height="4.27"/>
<line x1="65.6" x2="77.6" y1="620.56" y2="620.56" stroke-width="1.8"/>
</g>
<g stroke="#2b2b2b" stroke-width="1" fill="#33CCD0">
<line x1="95.41" x2="95.41" y1="566.81" y2="578.11"/>
<line x1="95.41" x2="95.41" y1="605.99" y2="610.76"/>
<rect x="89.41" y="578.11" width="12" height="27.88"/>
<line x1="89.41" x2="101.41" y1="595.94" y2="595.94" stroke-width="1.8"/>
</g>
<g stroke="#2b2b2b" stroke-width="1" fill="#D296FF">
<line x1="119.22" x2="119.22" y1="569.82" y2="576.35"/>
<line x1="119.22" x2="119.22" y1="596.44" y2="611.51"/>
<rect x="113.22" y="576.35" width="12" height="20.09"/>
<line x1="113.22" x2="125.22" y1="592.18" y2="592.18" stroke-width="1.8"/>
</g>
<g fill="#000">
<circle cx="41.93" cy="598.2" r="1.45"/>
<circle cx="48.21" cy="618.8" r="1.45"/>
<circle cx="49.97" cy="631.61" r="1.45"/>
<circle cx="76.58" cy="614.78" r="1.45"/>
<circle cx="70.31" cy="618.8" r="1.45"/>
<circle cx="74.58" cy="620.05" r="1.45"/>
<circle cx="65.79" cy="621.56" r="1.45"/>
<circle cx="66.29" cy="622.82" r="1.45"/>
<circle cx="74.83" cy="625.08" r="1.45"/>
<circle cx="97.68" cy="566.56" r="1.45"/>
<circle cx="96.92" cy="572.08" r="1.45"/>
<circle cx="99.18" cy="595.44" r="1.45"/>
<circle cx="91.9" cy="596.44" r="1.45"/>
<circle cx="92.15" cy="609.5" r="1.45"/>
<circle cx="100.69" cy="611.76" r="1.45"/>
<circle cx="119.52" cy="569.32" r="1.45"/>
<circle cx="115" cy="572.08" r="1.45"/>
<circle cx="121.78" cy="590.17" r="1.45"/>
<circle cx="119.27" cy="593.18" r="1.45"/>
<circle cx="120.53" cy="596.44" r="1.45"/>
<circle cx="124.29" cy="611.76" r="1.45"/>
</g>
<g stroke="#111" stroke-width="0.85" fill="none">
<path d="M71.6 516.8V514.5H119.22V516.8"/>
<path d="M95.41 533.9V531.6H119.22V533.9"/>
<path d="M47.79 549.7V547.4H95.41V549.7"/>
<path d="M47.79 565.8V563.5H71.6V565.8"/>
</g>
<g font-size="11" fill="#000" stroke="#000" stroke-width="0.2" text-anchor="middle">
<text x="95.41" y="513.05">0.0022</text>
<text x="107.31" y="530.15">0.82</text>
<text x="71.6" y="545.95">0.095</text>
<text x="59.69" y="562.05">0.9</text>
</g>
<path d="M33.5 473.4V654.95H133.5" stroke="#000" stroke-width="1.07" fill="none"/>
<g stroke="#333" stroke-width="1">
<line x1="30.5" x2="33" y1="519.59" y2="519.59"/>
<line x1="30.5" x2="33" y1="581.12" y2="581.12"/>
<line x1="30.5" x2="33" y1="642.66" y2="642.66"/>
</g>
<g font-size="12.6" fill="#4D4D4D" stroke="#4D4D4D" stroke-width="0.2" text-anchor="end">
<text x="28.3" y="524.19">1.0</text>
<text x="28.3" y="585.72">0.5</text>
<text x="28.3" y="647.26">0.0</text>
</g>
<rect x="34.1" y="453.45" width="98.8" height="19.35" fill="#fff" stroke="#111" stroke-width="1.25"/>
<text x="38.5" y="467.82" font-size="12" fill="#1A1A1A" stroke="#1A1A1A" stroke-width="0.2" textLength="86.5" lengthAdjust="spacingAndGlyphs">T CD4 mem rest</text>
</g>
<g>
<g stroke="#2b2b2b" stroke-width="1" fill="#F9918A">
<line x1="186.29" x2="186.29" y1="576.6" y2="601.47"/>
<line x1="186.29" x2="186.29" y1="629.09" y2="631.35"/>
<rect x="180.29" y="601.47" width="12" height="27.63"/>
<line x1="180.29" x2="192.29" y1="626.33" y2="626.33" stroke-width="1.8"/>
</g>
<g stroke="#2b2b2b" stroke-width="1" fill="#96BE33">
<line x1="210.1" x2="210.1" y1="626.33" y2="627.84"/>
<rect x="204.1" y="627.84" width="12" height="4.02"/>
<line x1="204.1" x2="216.1" y1="630.1" y2="630.1" stroke-width="1.8"/>
</g>
<g stroke="#2b2b2b" stroke-width="1" fill="#33CCD0">
<line x1="233.91" x2="233.91" y1="566.81" y2="571.58"/>
<line x1="233.91" x2="233.91" y1="620.81" y2="631.35"/>
<rect x="227.91" y="571.58" width="12" height="49.23"/>
<line x1="227.91" x2="239.91" y1="583.38" y2="583.38" stroke-width="1.8"/>
</g>
<g stroke="#2b2b2b" stroke-width="1" fill="#D296FF">
<line x1="257.72" x2="257.72" y1="621.31" y2="622.31"/>
<line x1="257.72" x2="257.72" y1="630.35" y2="631.86"/>
<rect x="251.72" y="622.31" width="12" height="8.04"/>
<line x1="251.72" x2="263.72" y1="625.33" y2="625.33" stroke-width="1.8"/>
</g>
<g fill="#000">
<circle cx="186.72" cy="576.35" r="1.45"/>
<circle cx="189.98" cy="626.58" r="1.45"/>
<circle cx="185.96" cy="631.35" r="1.45"/>
<circle cx="215.09" cy="604.73" r="1.45"/>
<circle cx="204.8" cy="626.33" r="1.45"/>
<circle cx="206.05" cy="631.35" r="1.45"/>
<circle cx="209.32" cy="631.35" r="1.45"/>
<circle cx="212.33" cy="631.35" r="1.45"/>
<circle cx="215.34" cy="631.35" r="1.45"/>
<circle cx="234.93" cy="566.56" r="1.45"/>
<circle cx="233.67" cy="569.07" r="1.45"/>
<circle cx="230.41" cy="577.36" r="1.45"/>
<circle cx="236.68" cy="589.41" r="1.45"/>
<circle cx="232.42" cy="631.35" r="1.45"/>
<circle cx="234.42" cy="631.35" r="1.45"/>
<circle cx="258.28" cy="595.69" r="1.45"/>
<circle cx="262.3" cy="622.31" r="1.45"/>
<circle cx="262.55" cy="628.34" r="1.45"/>
<circle cx="254.26" cy="631.35" r="1.45"/>
<circle cx="260.04" cy="626.33" r="1.45"/>
</g>
<g stroke="#111" stroke-width="0.85" fill="none">
<path d="M210.1 516.8V514.5H257.72V516.8"/>
<path d="M233.91 533.9V531.6H257.72V533.9"/>
<path d="M186.29 549.7V547.4H233.91V549.7"/>
<path d="M186.29 565.8V563.5H210.1V565.8"/>
</g>
<g font-size="11" fill="#000" stroke="#000" stroke-width="0.2" text-anchor="middle">
<text x="233.91" y="513.05">0.35</text>
<text x="245.81" y="530.15">0.17</text>
<text x="210.1" y="545.95">0.6</text>
<text x="198.19" y="562.05">0.32</text>
</g>
<path d="M172 473.4V654.95H272" stroke="#000" stroke-width="1.07" fill="none"/>
<g stroke="#333" stroke-width="1">
<line x1="169" x2="171.5" y1="498.24" y2="498.24"/>
<line x1="169" x2="171.5" y1="531.65" y2="531.65"/>
<line x1="169" x2="171.5" y1="564.8" y2="564.8"/>
<line x1="169" x2="171.5" y1="598.2" y2="598.2"/>
<line x1="169" x2="171.5" y1="631.35" y2="631.35"/>
</g>
<g font-size="12.6" fill="#4D4D4D" stroke="#4D4D4D" stroke-width="0.2" text-anchor="end">
<text x="166.8" y="502.84">0.4</text>
<text x="166.8" y="536.25">0.3</text>
<text x="166.8" y="569.4">0.2</text>
<text x="166.8" y="602.8">0.1</text>
<text x="166.8" y="635.95">0.0</text>
</g>
<rect x="172.6" y="453.45" width="98.8" height="19.35" fill="#fff" stroke="#111" stroke-width="1.25"/>
<text x="190.6" y="467.82" font-size="12" fill="#1A1A1A" stroke="#1A1A1A" stroke-width="0.2" textLength="60.8" lengthAdjust="spacingAndGlyphs">T cells CD8</text>
</g>
<g>
<g stroke="#2b2b2b" stroke-width="1" fill="#F9918A">
<line x1="315.34" x2="327.34" y1="631.35" y2="631.35" stroke-width="1.8"/>
</g>
<g stroke="#2b2b2b" stroke-width="1" fill="#96BE33">
<line x1="339.15" x2="351.15" y1="631.35" y2="631.35" stroke-width="1.8"/>
</g>
<g stroke="#2b2b2b" stroke-width="1" fill="#33CCD0">
<line x1="362.96" x2="374.96" y1="631.35" y2="631.35" stroke-width="1.8"/>
</g>
<g stroke="#2b2b2b" stroke-width="1" fill="#D296FF">
<line x1="392.77" x2="392.77" y1="514.82" y2="556.76"/>
<rect x="386.77" y="556.76" width="12" height="75.09"/>
<line x1="386.77" x2="398.77" y1="631.35" y2="631.35" stroke-width="1.8"/>
</g>
<g fill="#000">
<circle cx="316.69" cy="631.35" r="1.45"/>
<circle cx="320.45" cy="631.35" r="1.45"/>
<circle cx="322.96" cy="631.35" r="1.45"/>
<circle cx="325.98" cy="631.35" r="1.45"/>
<circle cx="340.54" cy="631.35" r="1.45"/>
<circle cx="345.56" cy="631.35" r="1.45"/>
<circle cx="348.07" cy="631.35" r="1.45"/>
<circle cx="350.08" cy="631.35" r="1.45"/>
<circle cx="363.64" cy="631.35" r="1.45"/>
<circle cx="367.66" cy="631.35" r="1.45"/>
<circle cx="370.17" cy="631.35" r="1.45"/>
<circle cx="371.93" cy="631.35" r="1.45"/>
<circle cx="373.68" cy="631.35" r="1.45"/>
<circle cx="396.53" cy="514.57" r="1.45"/>
<circle cx="389" cy="531.9" r="1.45"/>
<circle cx="388.75" cy="631.35" r="1.45"/>
<circle cx="391.01" cy="631.35" r="1.45"/>
<circle cx="393.52" cy="631.35" r="1.45"/>
</g>
<path d="M307.05 473.4V654.95H407.05" stroke="#000" stroke-width="1.07" fill="none"/>
<g stroke="#333" stroke-width="1">
<line x1="304.05" x2="306.55" y1="474.38" y2="474.38"/>
<line x1="304.05" x2="306.55" y1="526.62" y2="526.62"/>
<line x1="304.05" x2="306.55" y1="579.12" y2="579.12"/>
<line x1="304.05" x2="306.55" y1="631.35" y2="631.35"/>
</g>
<g font-size="12.6" fill="#4D4D4D" stroke="#4D4D4D" stroke-width="0.2" text-anchor="end">
<text x="301.85" y="478.98">0.06</text>
<text x="301.85" y="531.22">0.04</text>
<text x="301.85" y="583.72">0.02</text>
<text x="301.85" y="635.95">0.00</text>
</g>
<rect x="307.65" y="453.45" width="98.8" height="19.35" fill="#fff" stroke="#111" stroke-width="1.25"/>
<text x="316.7" y="467.82" font-size="12" fill="#1A1A1A" stroke="#1A1A1A" stroke-width="0.2" textLength="78.2" lengthAdjust="spacingAndGlyphs">T gamma delta</text>
</g>
<g>
<g stroke="#2b2b2b" stroke-width="1" fill="#F9918A">
<line x1="456.49" x2="456.49" y1="591.92" y2="606.49"/>
<line x1="456.49" x2="456.49" y1="624.32" y2="627.59"/>
<rect x="450.49" y="606.49" width="12" height="17.83"/>
<line x1="450.49" x2="462.49" y1="621.81" y2="621.81" stroke-width="1.8"/>
</g>
<g stroke="#2b2b2b" stroke-width="1" fill="#96BE33">
<line x1="480.3" x2="480.3" y1="585.65" y2="594.18"/>
<line x1="480.3" x2="480.3" y1="620.05" y2="631.35"/>
<rect x="474.3" y="594.18" width="12" height="25.87"/>
<line x1="474.3" x2="486.3" y1="600.21" y2="600.21" stroke-width="1.8"/>
</g>
<g stroke="#2b2b2b" stroke-width="1" fill="#33CCD0">
<line x1="504.11" x2="504.11" y1="623.32" y2="625.08"/>
<rect x="498.11" y="625.08" width="12" height="6.28"/>
<line x1="498.11" x2="510.11" y1="630.6" y2="630.6" stroke-width="1.8"/>
</g>
<g stroke="#2b2b2b" stroke-width="1" fill="#D296FF">
<line x1="527.92" x2="527.92" y1="570.58" y2="598.45"/>
<line x1="527.92" x2="527.92" y1="630.35" y2="631.35"/>
<rect x="521.92" y="598.45" width="12" height="31.9"/>
<line x1="521.92" x2="533.92" y1="621.31" y2="621.31" stroke-width="1.8"/>
</g>
<g fill="#000">
<circle cx="458.72" cy="591.42" r="1.45"/>
<circle cx="456.46" cy="621.31" r="1.45"/>
<circle cx="451.69" cy="627.84" r="1.45"/>
<circle cx="479.31" cy="585.14" r="1.45"/>
<circle cx="484.33" cy="593.68" r="1.45"/>
<circle cx="484.58" cy="596.19" r="1.45"/>
<circle cx="478.8" cy="603.98" r="1.45"/>
<circle cx="477.3" cy="625.08" r="1.45"/>
<circle cx="483.58" cy="631.35" r="1.45"/>
<circle cx="508.68" cy="566.56" r="1.45"/>
<circle cx="504.16" cy="623.57" r="1.45"/>
<circle cx="499.9" cy="630.35" r="1.45"/>
<circle cx="501.4" cy="631.35" r="1.45"/>
<circle cx="504.42" cy="631.35" r="1.45"/>
<circle cx="506.93" cy="631.35" r="1.45"/>
<circle cx="526.26" cy="570.32" r="1.45"/>
<circle cx="524" cy="592.43" r="1.45"/>
<circle cx="531.28" cy="616.79" r="1.45"/>
<circle cx="528.27" cy="625.83" r="1.45"/>
<circle cx="529.02" cy="631.35" r="1.45"/>
<circle cx="533.04" cy="631.35" r="1.45"/>
</g>
<g stroke="#111" stroke-width="0.85" fill="none">
<path d="M480.3 516.8V514.5H527.92V516.8"/>
<path d="M504.11 533.9V531.6H527.92V533.9"/>
<path d="M456.49 549.7V547.4H504.11V549.7"/>
<path d="M456.49 565.8V563.5H480.3V565.8"/>
</g>
<g font-size="11" fill="#000" stroke="#000" stroke-width="0.2" text-anchor="middle">
<text x="504.11" y="513.05">0.69</text>
<text x="516.01" y="530.15">0.56</text>
<text x="480.3" y="545.95">0.24</text>
<text x="468.39" y="562.05">0.9</text>
</g>
<path d="M442.2 473.4V654.95H542.2" stroke="#000" stroke-width="1.07" fill="none"/>
<g stroke="#333" stroke-width="1">
<line x1="439.2" x2="441.7" y1="503.27" y2="503.27"/>
<line x1="439.2" x2="441.7" y1="535.16" y2="535.16"/>
<line x1="439.2" x2="441.7" y1="567.31" y2="567.31"/>
<line x1="439.2" x2="441.7" y1="599.46" y2="599.46"/>
<line x1="439.2" x2="441.7" y1="631.35" y2="631.35"/>
</g>
<g font-size="12.6" fill="#4D4D4D" stroke="#4D4D4D" stroke-width="0.2" text-anchor="end">
<text x="437" y="507.87">0.20</text>
<text x="437" y="539.76">0.15</text>
<text x="437" y="571.91">0.10</text>
<text x="437" y="604.06">0.05</text>
<text x="437" y="635.95">0.00</text>
</g>
<rect x="442.8" y="453.45" width="98.8" height="19.35" fill="#fff" stroke="#111" stroke-width="1.25"/>
<text x="469.5" y="467.82" font-size="12" fill="#1A1A1A" stroke="#1A1A1A" stroke-width="0.2" textLength="44.9" lengthAdjust="spacingAndGlyphs">T Helper</text>
</g>
<g>
<g stroke="#2b2b2b" stroke-width="1" fill="#F9918A">
<line x1="598.84" x2="598.84" y1="567.31" y2="571.33"/>
<line x1="598.84" x2="598.84" y1="601.72" y2="626.33"/>
<rect x="592.84" y="571.33" width="12" height="30.39"/>
<line x1="592.84" x2="604.84" y1="576.6" y2="576.6" stroke-width="1.8"/>
</g>
<g stroke="#2b2b2b" stroke-width="1" fill="#96BE33">
<line x1="622.65" x2="622.65" y1="604.48" y2="612.52"/>
<line x1="622.65" x2="622.65" y1="622.31" y2="627.59"/>
<rect x="616.65" y="612.52" width="12" height="9.79"/>
<line x1="616.65" x2="628.65" y1="618.29" y2="618.29" stroke-width="1.8"/>
</g>
<g stroke="#2b2b2b" stroke-width="1" fill="#33CCD0">
<line x1="646.46" x2="646.46" y1="570.07" y2="582.88"/>
<rect x="640.46" y="582.88" width="12" height="13.31"/>
<line x1="640.46" x2="652.46" y1="590.67" y2="590.67" stroke-width="1.8"/>
</g>
<g stroke="#2b2b2b" stroke-width="1" fill="#D296FF">
<line x1="670.27" x2="670.27" y1="627.09" y2="628.59"/>
<rect x="664.27" y="628.59" width="12" height="3.77"/>
<line x1="664.27" x2="676.27" y1="630.85" y2="630.85" stroke-width="1.8"/>
</g>
<g fill="#000">
<circle cx="601.39" cy="566.56" r="1.45"/>
<circle cx="601.39" cy="577.11" r="1.45"/>
<circle cx="598.87" cy="626.33" r="1.45"/>
<circle cx="626.24" cy="604.48" r="1.45"/>
<circle cx="627.75" cy="611.26" r="1.45"/>
<circle cx="625.24" cy="615.78" r="1.45"/>
<circle cx="619.21" cy="620.56" r="1.45"/>
<circle cx="625.49" cy="622.06" r="1.45"/>
<circle cx="626.24" cy="627.84" r="1.45"/>
<circle cx="646.33" cy="569.82" r="1.45"/>
<circle cx="642.06" cy="582.38" r="1.45"/>
<circle cx="642.31" cy="586.4" r="1.45"/>
<circle cx="646.08" cy="595.94" r="1.45"/>
<circle cx="650.6" cy="596.19" r="1.45"/>
<circle cx="651.6" cy="626.08" r="1.45"/>
<circle cx="671.94" cy="602.97" r="1.45"/>
<circle cx="674.45" cy="627.34" r="1.45"/>
<circle cx="665.41" cy="631.35" r="1.45"/>
<circle cx="667.42" cy="631.35" r="1.45"/>
<circle cx="671.19" cy="630.35" r="1.45"/>
</g>
<g stroke="#111" stroke-width="0.85" fill="none">
<path d="M622.65 516.8V514.5H670.27V516.8"/>
<path d="M646.46 533.9V531.6H670.27V533.9"/>
<path d="M598.84 549.7V547.4H646.46V549.7"/>
<path d="M598.84 565.8V563.5H622.65V565.8"/>
</g>
<g font-size="11" fill="#000" stroke="#000" stroke-width="0.2" text-anchor="middle">
<text x="646.46" y="513.05">0.087</text>
<text x="658.37" y="530.15">0.0072</text>
<text x="622.65" y="545.95">0.71</text>
<text x="610.74" y="562.05">0.38</text>
</g>
<path d="M584.55 473.4V654.95H684.55" stroke="#000" stroke-width="1.07" fill="none"/>
<g stroke="#333" stroke-width="1">
<line x1="581.55" x2="584.05" y1="524.87" y2="524.87"/>
<line x1="581.55" x2="584.05" y1="578.11" y2="578.11"/>
<line x1="581.55" x2="584.05" y1="631.35" y2="631.35"/>
</g>
<g font-size="12.6" fill="#4D4D4D" stroke="#4D4D4D" stroke-width="0.2" text-anchor="end">
<text x="579.35" y="529.47">0.4</text>
<text x="579.35" y="582.71">0.2</text>
<text x="579.35" y="635.95">0.0</text>
</g>
<rect x="585.15" y="453.45" width="98.8" height="19.35" fill="#fff" stroke="#111" stroke-width="1.25"/>
<text x="617.9" y="467.82" font-size="12" fill="#1A1A1A" stroke="#1A1A1A" stroke-width="0.2" textLength="33.3" lengthAdjust="spacingAndGlyphs">T regs</text>
</g>
<g>
<g stroke="#2b2b2b" stroke-width="1" fill="#F9918A">
<line x1="47.79" x2="47.79" y1="819.77" y2="827.05"/>
<line x1="47.79" x2="47.79" y1="836.09" y2="837.85"/>
<rect x="41.79" y="827.05" width="12" height="9.04"/>
<line x1="41.79" x2="53.79" y1="834.59" y2="834.59" stroke-width="1.8"/>
</g>
<g stroke="#2b2b2b" stroke-width="1" fill="#96BE33">
<line x1="71.6" x2="71.6" y1="775.82" y2="793.65"/>
<line x1="71.6" x2="71.6" y1="820.52" y2="842.12"/>
<rect x="65.6" y="793.65" width="12" height="26.87"/>
<line x1="65.6" x2="77.6" y1="807.97" y2="807.97" stroke-width="1.8"/>
</g>
<g stroke="#2b2b2b" stroke-width="1" fill="#33CCD0">
<line x1="95.41" x2="95.41" y1="784.61" y2="795.66"/>
<line x1="95.41" x2="95.41" y1="814.5" y2="831.07"/>
<rect x="89.41" y="795.66" width="12" height="18.84"/>
<line x1="89.41" x2="101.41" y1="808.72" y2="808.72" stroke-width="1.8"/>
</g>
<g stroke="#2b2b2b" stroke-width="1" fill="#D296FF">
<line x1="119.22" x2="119.22" y1="792.65" y2="793.65"/>
<line x1="119.22" x2="119.22" y1="813.49" y2="827.3"/>
<rect x="113.22" y="793.65" width="12" height="19.84"/>
<line x1="113.22" x2="125.22" y1="803.7" y2="803.7" stroke-width="1.8"/>
</g>
<g fill="#000">
<circle cx="52.73" cy="819.52" r="1.45"/>
<circle cx="51.47" cy="834.84" r="1.45"/>
<circle cx="47.71" cy="836.6" r="1.45"/>
<circle cx="43.94" cy="837.85" r="1.45"/>
<circle cx="70.81" cy="776.32" r="1.45"/>
<circle cx="70.56" cy="790.89" r="1.45"/>
<circle cx="66.04" cy="802.19" r="1.45"/>
<circle cx="74.32" cy="813.49" r="1.45"/>
<circle cx="75.83" cy="823.03" r="1.45"/>
<circle cx="68.3" cy="842.12" r="1.45"/>
<circle cx="91.65" cy="784.36" r="1.45"/>
<circle cx="99.43" cy="792.39" r="1.45"/>
<circle cx="90.14" cy="806.21" r="1.45"/>
<circle cx="97.68" cy="811.98" r="1.45"/>
<circle cx="93.16" cy="815.5" r="1.45"/>
<circle cx="100.94" cy="831.07" r="1.45"/>
<circle cx="113.75" cy="792.9" r="1.45"/>
<circle cx="122.79" cy="791.89" r="1.45"/>
<circle cx="115.25" cy="795.41" r="1.45"/>
<circle cx="115" cy="813.49" r="1.45"/>
<circle cx="122.03" cy="813.49" r="1.45"/>
<circle cx="124.29" cy="827.56" r="1.45"/>
</g>
<g stroke="#111" stroke-width="0.85" fill="none">
<path d="M71.6 726.9V724.6H119.22V726.9"/>
<path d="M95.41 744V741.7H119.22V744"/>
<path d="M47.79 759.8V757.5H95.41V759.8"/>
<path d="M47.79 775.9V773.6H71.6V775.9"/>
</g>
<g font-size="11" fill="#000" stroke="#000" stroke-width="0.2" text-anchor="middle">
<text x="95.41" y="723.15">1</text>
<text x="107.31" y="740.25">1</text>
<text x="71.6" y="756.05">0.048</text>
<text x="59.69" y="772.15">0.26</text>
</g>
<path d="M33.5 683.7V865.25H133.5" stroke="#000" stroke-width="1.07" fill="none"/>
<g stroke="#333" stroke-width="1">
<line x1="30.5" x2="33" y1="684.9" y2="684.9"/>
<line x1="30.5" x2="33" y1="729.86" y2="729.86"/>
<line x1="30.5" x2="33" y1="774.56" y2="774.56"/>
<line x1="30.5" x2="33" y1="819.52" y2="819.52"/>
<line x1="30.5" x2="33" y1="864.47" y2="864.47"/>
</g>
<g font-size="12.6" fill="#4D4D4D" stroke="#4D4D4D" stroke-width="0.2" text-anchor="end">
<text x="28.3" y="689.5">4000</text>
<text x="28.3" y="734.46">3000</text>
<text x="28.3" y="779.16">2000</text>
<text x="28.3" y="824.12">1000</text>
<text x="28.3" y="869.07">0</text>
</g>
<rect x="34.1" y="663.75" width="98.8" height="19.35" fill="#fff" stroke="#111" stroke-width="1.25"/>
<text x="45.9" y="678.13" font-size="12" fill="#1A1A1A" stroke="#1A1A1A" stroke-width="0.2" textLength="71.9" lengthAdjust="spacingAndGlyphs">StromalScore</text>
</g>
<g>
<g stroke="#2b2b2b" stroke-width="1" fill="#F9918A">
<line x1="186.29" x2="186.29" y1="807.71" y2="816.25"/>
<line x1="186.29" x2="186.29" y1="828.31" y2="831.32"/>
<rect x="180.29" y="816.25" width="12" height="12.06"/>
<line x1="180.29" x2="192.29" y1="825.29" y2="825.29" stroke-width="1.8"/>
</g>
<g stroke="#2b2b2b" stroke-width="1" fill="#96BE33">
<line x1="210.1" x2="210.1" y1="810.23" y2="826.3"/>
<line x1="210.1" x2="210.1" y1="838.35" y2="841.62"/>
<rect x="204.1" y="826.3" width="12" height="12.06"/>
<line x1="204.1" x2="216.1" y1="832.33" y2="832.33" stroke-width="1.8"/>
</g>
<g stroke="#2b2b2b" stroke-width="1" fill="#33CCD0">
<line x1="233.91" x2="233.91" y1="786.37" y2="790.13"/>
<line x1="233.91" x2="233.91" y1="809.72" y2="825.8"/>
<rect x="227.91" y="790.13" width="12" height="19.59"/>
<line x1="227.91" x2="239.91" y1="802.94" y2="802.94" stroke-width="1.8"/>
</g>
<g stroke="#2b2b2b" stroke-width="1" fill="#D296FF">
<line x1="257.72" x2="257.72" y1="777.07" y2="789.38"/>
<line x1="257.72" x2="257.72" y1="810.98" y2="823.29"/>
<rect x="251.72" y="789.38" width="12" height="21.6"/>
<line x1="251.72" x2="263.72" y1="803.95" y2="803.95" stroke-width="1.8"/>
</g>
<g fill="#000">
<circle cx="189.98" cy="807.21" r="1.45"/>
<circle cx="184.71" cy="825.29" r="1.45"/>
<circle cx="191.49" cy="831.57" r="1.45"/>
<circle cx="205.8" cy="809.97" r="1.45"/>
<circle cx="204.8" cy="825.29" r="1.45"/>
<circle cx="215.34" cy="828.56" r="1.45"/>
<circle cx="208.56" cy="838.35" r="1.45"/>
<circle cx="210.57" cy="838.35" r="1.45"/>
<circle cx="215.34" cy="842.12" r="1.45"/>
<circle cx="235.43" cy="786.87" r="1.45"/>
<circle cx="239.45" cy="786.37" r="1.45"/>
<circle cx="236.18" cy="801.18" r="1.45"/>
<circle cx="237.44" cy="804.2" r="1.45"/>
<circle cx="232.42" cy="811.48" r="1.45"/>
<circle cx="229.4" cy="826.05" r="1.45"/>
<circle cx="262.05" cy="776.57" r="1.45"/>
<circle cx="262.05" cy="785.36" r="1.45"/>
<circle cx="259.53" cy="801.18" r="1.45"/>
<circle cx="255.27" cy="807.71" r="1.45"/>
<circle cx="254.01" cy="812.24" r="1.45"/>
<circle cx="255.77" cy="823.29" r="1.45"/>
</g>
<g stroke="#111" stroke-width="0.85" fill="none">
<path d="M210.1 726.9V724.6H257.72V726.9"/>
<path d="M233.91 744V741.7H257.72V744"/>
<path d="M186.29 759.8V757.5H233.91V759.8"/>
<path d="M186.29 775.9V773.6H210.1V775.9"/>
</g>
<g font-size="11" fill="#000" stroke="#000" stroke-width="0.2" text-anchor="middle">
<text x="233.91" y="723.15">0.0087</text>
<text x="245.81" y="740.25">0.82</text>
<text x="210.1" y="756.05">0.17</text>
<text x="198.19" y="772.15">0.26</text>
</g>
<path d="M172 683.7V865.25H272" stroke="#000" stroke-width="1.07" fill="none"/>
<g stroke="#333" stroke-width="1">
<line x1="169" x2="171.5" y1="731.62" y2="731.62"/>
<line x1="169" x2="171.5" y1="786.37" y2="786.37"/>
<line x1="169" x2="171.5" y1="841.12" y2="841.12"/>
</g>
<g font-size="12.6" fill="#4D4D4D" stroke="#4D4D4D" stroke-width="0.2" text-anchor="end">
<text x="166.8" y="736.22">4000</text>
<text x="166.8" y="790.97">2000</text>
<text x="166.8" y="845.72">0</text>
</g>
<rect x="172.6" y="663.75" width="98.8" height="19.35" fill="#fff" stroke="#111" stroke-width="1.25"/>
<text x="184.8" y="678.13" font-size="12" fill="#1A1A1A" stroke="#1A1A1A" stroke-width="0.2" textLength="72.5" lengthAdjust="spacingAndGlyphs">ImmuneScore</text>
</g>
<g>
<g stroke="#2b2b2b" stroke-width="1" fill="#F9918A">
<line x1="321.34" x2="321.34" y1="783.1" y2="785.61"/>
<line x1="321.34" x2="321.34" y1="799.18" y2="809.47"/>
<rect x="315.34" y="785.61" width="12" height="13.56"/>
<line x1="315.34" x2="327.34" y1="788.12" y2="788.12" stroke-width="1.8"/>
</g>
<g stroke="#2b2b2b" stroke-width="1" fill="#96BE33">
<line x1="345.15" x2="345.15" y1="776.82" y2="783.35"/>
<line x1="345.15" x2="345.15" y1="805.2" y2="829.06"/>
<rect x="339.15" y="783.35" width="12" height="21.85"/>
<line x1="339.15" x2="351.15" y1="795.41" y2="795.41" stroke-width="1.8"/>
</g>
<g stroke="#2b2b2b" stroke-width="1" fill="#33CCD0">
<line x1="368.96" x2="368.96" y1="789.63" y2="813.24"/>
<line x1="368.96" x2="368.96" y1="830.32" y2="833.58"/>
<rect x="362.96" y="813.24" width="12" height="17.08"/>
<line x1="362.96" x2="374.96" y1="829.31" y2="829.31" stroke-width="1.8"/>
</g>
<g stroke="#2b2b2b" stroke-width="1" fill="#D296FF">
<line x1="392.77" x2="392.77" y1="809.72" y2="810.48"/>
<line x1="392.77" x2="392.77" y1="833.08" y2="842.12"/>
<rect x="386.77" y="810.48" width="12" height="22.6"/>
<line x1="386.77" x2="398.77" y1="815.5" y2="815.5" stroke-width="1.8"/>
</g>
<g fill="#000">
<circle cx="317.69" cy="782.85" r="1.45"/>
<circle cx="324.22" cy="788.38" r="1.45"/>
<circle cx="322.71" cy="809.47" r="1.45"/>
<circle cx="349.33" cy="776.82" r="1.45"/>
<circle cx="341.8" cy="782.35" r="1.45"/>
<circle cx="344.31" cy="788.38" r="1.45"/>
<circle cx="344.31" cy="803.19" r="1.45"/>
<circle cx="342.05" cy="805.96" r="1.45"/>
<circle cx="345.56" cy="829.06" r="1.45"/>
<circle cx="371.17" cy="789.38" r="1.45"/>
<circle cx="365.65" cy="808.22" r="1.45"/>
<circle cx="370.67" cy="828.56" r="1.45"/>
<circle cx="368.16" cy="830.32" r="1.45"/>
<circle cx="366.91" cy="831.32" r="1.45"/>
<circle cx="366.4" cy="833.83" r="1.45"/>
<circle cx="397.54" cy="809.97" r="1.45"/>
<circle cx="394.53" cy="810.48" r="1.45"/>
<circle cx="388.75" cy="811.98" r="1.45"/>
<circle cx="391.51" cy="817.01" r="1.45"/>
<circle cx="388.5" cy="838.35" r="1.45"/>
<circle cx="396.28" cy="842.12" r="1.45"/>
</g>
<g stroke="#111" stroke-width="0.85" fill="none">
<path d="M345.15 726.9V724.6H392.77V726.9"/>
<path d="M368.96 744V741.7H392.77V744"/>
<path d="M321.34 759.8V757.5H368.96V759.8"/>
<path d="M321.34 775.9V773.6H345.15V775.9"/>
</g>
<g font-size="11" fill="#000" stroke="#000" stroke-width="0.2" text-anchor="middle">
<text x="368.96" y="723.15">0.026</text>
<text x="380.87" y="740.25">0.82</text>
<text x="345.15" y="756.05">0.095</text>
<text x="333.25" y="772.15">0.9</text>
</g>
<path d="M307.05 683.7V865.25H407.05" stroke="#000" stroke-width="1.07" fill="none"/>
<g stroke="#333" stroke-width="1">
<line x1="304.05" x2="306.55" y1="686.66" y2="686.66"/>
<line x1="304.05" x2="306.55" y1="733.62" y2="733.62"/>
<line x1="304.05" x2="306.55" y1="780.59" y2="780.59"/>
<line x1="304.05" x2="306.55" y1="827.3" y2="827.3"/>
</g>
<g font-size="12.6" fill="#4D4D4D" stroke="#4D4D4D" stroke-width="0.2" text-anchor="end">
<text x="301.85" y="691.26">1.25</text>
<text x="301.85" y="738.22">1.00</text>
<text x="301.85" y="785.19">0.75</text>
<text x="301.85" y="831.9">0.50</text>
</g>
<rect x="307.65" y="663.75" width="98.8" height="19.35" fill="#fff" stroke="#111" stroke-width="1.25"/>
<text x="324.4" y="678.13" font-size="12" fill="#1A1A1A" stroke="#1A1A1A" stroke-width="0.2" textLength="63.9" lengthAdjust="spacingAndGlyphs">TumorPurity</text>
</g>
</svg>
</body></html>
